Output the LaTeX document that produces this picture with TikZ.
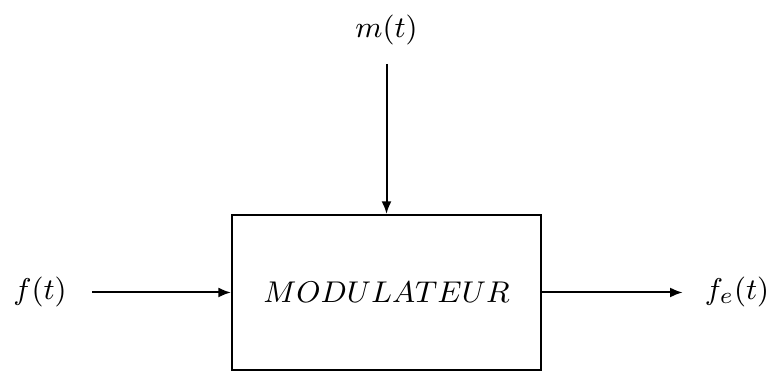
\documentclass[tikz,border=0pt]{standalone}
\usepackage{tikz}
\usetikzlibrary{arrows.meta,positioning}

\begin{document}
\begin{tikzpicture}[x=0.3pt,y=0.3pt,>={Latex[length=3.8pt,width=3pt]},semithick,
  every node/.style={font=\fontsize{9.4}{11}\selectfont}]
\useasboundingbox (0,0) rectangle (776,372);
\node[draw,minimum width=92.7pt,minimum height=46.5pt] (mod) at (386.5,79.5) {$MODULATEUR$};
\node (fin) at (40,79.5) {$f(t)$};
\node (fout) at (737,79.5) {$f_e(t)$};
\node (msig) at (386.5,342) {$m(t)$};
\draw[->,shorten <=4pt] (fin)--(mod);
\draw[->,shorten >=3pt] (mod)--(fout);
\draw[->,shorten <=2pt] (msig)--(mod);
\end{tikzpicture}
\end{document}
